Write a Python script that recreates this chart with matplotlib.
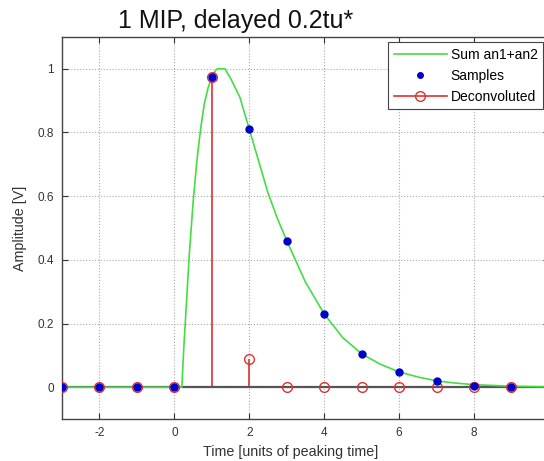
import matplotlib.pyplot as plt
from matplotlib.lines import Line2D
from matplotlib.legend_handler import HandlerLine2D

plt.rcParams['font.family'] = ['Liberation Sans', 'DejaVu Sans']
plt.rcParams['axes.unicode_minus'] = False

# green curve "Sum an1+an2"
curve_t = [-3, -2, -1, 0, 0.2, 0.25, 0.3, 0.4, 0.5, 0.6, 0.7, 0.8, 0.9, 1.0, 1.1, 1.15,
           1.35, 1.5, 1.75, 2.0, 2.25, 2.5, 2.75, 3.0, 3.5, 4.0, 4.5, 5.0, 5.5, 6.0,
           6.5, 7.0, 7.5, 8.0, 9.0, 10.0]
curve_y = [0, 0, 0, 0, 0, 0.12, 0.22, 0.42, 0.58, 0.71, 0.81, 0.89, 0.94, 0.975, 0.995, 1.0,
           1.0, 0.97, 0.91, 0.81, 0.71, 0.61, 0.53, 0.46, 0.33, 0.23, 0.155, 0.105, 0.072, 0.048,
           0.032, 0.02, 0.013, 0.008, 0.003, 0.001]

# samples and deconvoluted values at integer times
sample_t = [-3, -2, -1, 0, 1, 2, 3, 4, 5, 6, 7, 8, 9, 10]
sample_y = [0, 0, 0, 0, 0.975, 0.81, 0.46, 0.23, 0.105, 0.048, 0.02, 0.005, 0.002, 0.001]
decon_y = [0, 0, 0, 0, 0.975, 0.09, 0, 0, 0, 0, 0, 0, 0, 0]

xticks = [-2, 0, 2, 4, 6, 8, 10]
yticks = [0, 0.2, 0.4, 0.6, 0.8, 1]
ytick_labels = ['0', '0.2', '0.4', '0.6', '0.8', '1']

GREEN = '#44dd44'
BLUE = '#0000cc'
RED = '#e03030'


class EndMarker(HandlerLine2D):
    # matlab style stem legend: marker at the right end of the line
    def get_xdata(self, legend, xdescent, ydescent, width, height, fontsize):
        return [-xdescent, -xdescent + width], [-xdescent + width * 0.9]


fig = plt.figure(figsize=(5.44, 4.61), dpi=100)
ax = fig.add_axes([0.114, 0.091, 0.895, 0.829])

ax.plot(curve_t, curve_y, color=GREEN, lw=1.2, zorder=3)
ax.plot(sample_t, sample_y, 'o', color=BLUE, ms=5, ls='none', zorder=5)

ml, sl, bl = ax.stem(sample_t, decon_y, linefmt='-', markerfmt='o', basefmt='-')
plt.setp(sl, color=RED, lw=1.2)
plt.setp(ml, color=RED, markerfacecolor='none', ms=7, mew=1.0, zorder=4)
plt.setp(bl, color='#555555', lw=1.6, zorder=2)

ax.set_xlim(-3, 10)
ax.set_ylim(-0.1, 1.1)
ax.set_xticks(xticks)
ax.set_yticks(yticks)
ax.set_yticklabels(ytick_labels)
ax.grid(True, ls=':', color='#aaaaaa', lw=0.8)
ax.tick_params(direction='in', top=True, right=True, labelsize=8.5, colors='#333333',
               length=4, pad=6)
for s in ax.spines.values():
    s.set_color('#444444')
    s.set_linewidth(1.0)

ax.set_xlabel('Time [units of peaking time]', fontsize=10.3, color='#333333', va='center')
ax.xaxis.set_label_coords(0.47, -0.086)
ax.set_ylabel('Amplitude [V]', fontsize=10.3, color='#333333', va='center')
ax.yaxis.set_label_coords(-0.086, 0.5)

fig.text(236 / 544, 1 - 21 / 461, '1 MIP, delayed 0.2tu*', fontsize=18,
         ha='center', va='center', color='#111111')

h_sum = Line2D([], [], color=GREEN, lw=1.2)
h_smp = Line2D([], [], color=BLUE, marker='o', ms=4, ls='none')
h_dec = Line2D([], [], color=RED, lw=1.2, marker='o', ms=7, markerfacecolor='none')
leg = ax.legend([h_sum, h_smp, h_dec], ['Sum an1+an2', 'Samples', 'Deconvoluted'],
                loc='upper right', fontsize=10, fancybox=False, framealpha=1,
                edgecolor='#444444', borderaxespad=0.4, handlelength=3.8,
                handletextpad=0.3, labelspacing=0.5, numpoints=1,
                handler_map={h_dec: EndMarker()})
leg.get_frame().set_linewidth(0.8)

fig.savefig('out.png', dpi=100)
